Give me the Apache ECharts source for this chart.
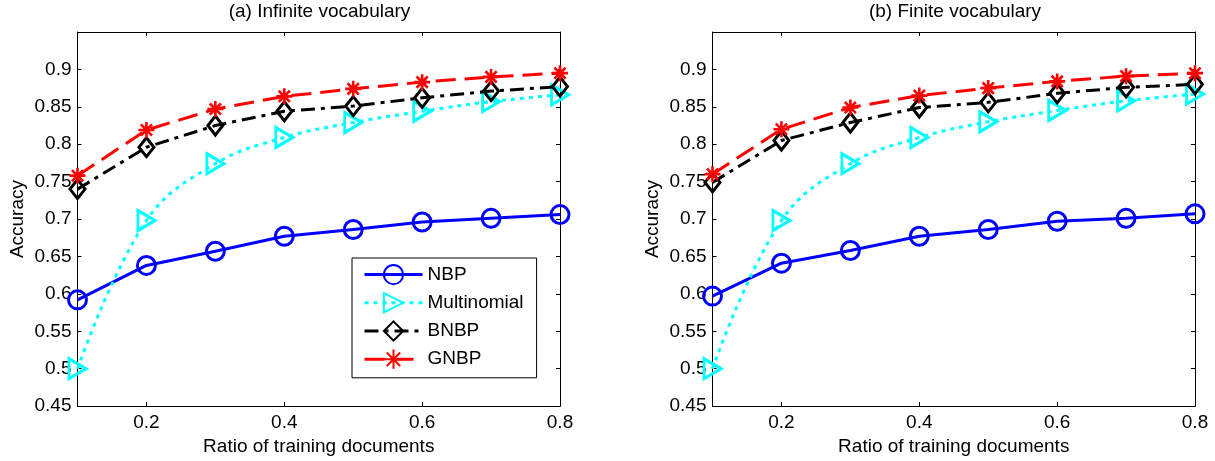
<!DOCTYPE html>
<html>
<head>
<meta charset="utf-8">
<script src="https://cdn.jsdelivr.net/npm/echarts@6/dist/echarts.min.js"></script>
<style>
html,body{margin:0;padding:0;background:#fff;}
#chart{width:1215px;height:461px;}
</style>
</head>
<body>
<div id="chart"></div>
<script>
const ratios = [0.1, 0.2, 0.3, 0.4, 0.5, 0.6, 0.7, 0.8];
const infNBP   = [0.592, 0.638, 0.657, 0.677, 0.686, 0.696, 0.701, 0.706];
const infMulti = [0.500, 0.698, 0.774, 0.809, 0.829, 0.844, 0.857, 0.866];
const infBNBP  = [0.740, 0.796, 0.825, 0.844, 0.851, 0.862, 0.871, 0.877];
const infGNBP  = [0.758, 0.819, 0.847, 0.864, 0.874, 0.883, 0.890, 0.895];
const finNBP   = [0.597, 0.641, 0.658, 0.677, 0.686, 0.697, 0.701, 0.707];
const finMulti = [0.500, 0.698, 0.774, 0.809, 0.830, 0.845, 0.858, 0.867];
const finBNBP  = [0.749, 0.805, 0.829, 0.849, 0.856, 0.868, 0.876, 0.880];
const finGNBP  = [0.760, 0.820, 0.849, 0.865, 0.875, 0.884, 0.891, 0.895];
const xTicks = [0.2, 0.4, 0.6, 0.8];
const yTicks = [0.45, 0.5, 0.55, 0.6, 0.65, 0.7, 0.75, 0.8, 0.85, 0.9];
const seriesNames = ['NBP', 'Multinomial', 'BNBP', 'GNBP'];
const titles = ['(a) Infinite vocabulary', '(b) Finite vocabulary'];
const xName = 'Ratio of training documents';
const yName = 'Accuracy';

const FONT = 'Liberation Sans, Arial, Helvetica, sans-serif';
const fmt = v => String(+(+v).toFixed(2));
const zip = ys => ratios.map((x, i) => [x, ys[i]]);

const gridLefts = [77.5, 712.5];
const titleCenters = [319.5, 955];

function xAx(g, pos) {
  const bottom = pos === 'bottom';
  return {
    type: 'value', gridIndex: g, position: pos, min: 0.1, max: 0.8,
    axisLine: {show: true, onZero: false, lineStyle: {color: '#000', width: 1}},
    axisTick: {show: true, inside: true, length: 4, customValues: xTicks, lineStyle: {color: '#000', width: 1}},
    axisLabel: {show: bottom, customValues: xTicks, formatter: fmt, margin: 7, color: '#000', fontSize: 19, fontFamily: FONT},
    splitLine: {show: false},
    name: bottom ? xName : '', nameLocation: 'middle', nameGap: 30,
    nameTextStyle: {color: '#000', fontSize: 19, fontFamily: FONT}
  };
}
function yAx(g, pos) {
  const left = pos === 'left';
  return {
    type: 'value', gridIndex: g, position: pos, min: 0.45, max: 0.95,
    axisLine: {show: true, onZero: false, lineStyle: {color: '#000', width: 1}},
    axisTick: {show: true, inside: true, length: 4, customValues: yTicks, lineStyle: {color: '#000', width: 1}},
    axisLabel: {show: left, customValues: yTicks, formatter: fmt, margin: 6, color: '#000', fontSize: 19, fontFamily: FONT},
    splitLine: {show: false},
    name: left ? yName : '', nameLocation: 'middle', nameGap: 50, nameRotate: 90,
    nameTextStyle: {color: '#000', fontSize: 19, fontFamily: FONT}
  };
}

const styles = {
  NBP: {color: '#0000ff', symbol: 'circle', size: 18, dash: 'solid', smooth: false, bw: 3},
  Multinomial: {color: '#00ffff', symbol: 'path://M0,0 L17,10 L0,20 Z', size: [17, 20], dash: [4, 5], smooth: 0.4, bw: 3},
  BNBP: {color: '#000000', symbol: 'diamond', size: [15, 19], dash: [14, 6, 4, 6], smooth: false, bw: 3},
  GNBP: {color: '#ff0000', symbol: 'path://M10,0 L10,20 M0,10 L20,10 M3,3 L17,17 M17,3 L3,17', size: 16, dash: [20, 9], smooth: false, bw: 2.6}
};

const dataSets = [[infNBP, infMulti, infBNBP, infGNBP], [finNBP, finMulti, finBNBP, finGNBP]];
const series = [];
dataSets.forEach((set, g) => {
  set.forEach((ys, k) => {
    const name = seriesNames[k];
    const s = styles[name];
    series.push({
      name, type: 'line', xAxisIndex: g * 2, yAxisIndex: g * 2,
      data: zip(ys), clip: false, smooth: s.smooth,
      symbol: s.symbol, symbolSize: s.size, showAllSymbol: true,
      lineStyle: {color: s.color, width: 3, type: s.dash},
      itemStyle: {color: 'rgba(0,0,0,0)', borderColor: s.color, borderWidth: s.bw},
      emphasis: {disabled: true},
      z: 2 + k
    });
  });
});

const option = {
  backgroundColor: '#fff',
  animation: false,
  title: titles.map((t, g) => ({
    text: t, left: titleCenters[g], top: 2, textAlign: 'center', padding: 0,
    textStyle: {color: '#000', fontSize: 19, fontWeight: 'normal', fontFamily: FONT}
  })),
  grid: gridLefts.map(l => ({left: l, top: 32, width: 482.5, height: 376, containLabel: false})),
  xAxis: [xAx(0, 'bottom'), xAx(0, 'top'), xAx(1, 'bottom'), xAx(1, 'top')],
  yAxis: [yAx(0, 'left'), yAx(0, 'right'), yAx(1, 'left'), yAx(1, 'right')],
  legend: {
    data: seriesNames, left: 352, top: 258, orient: 'vertical',
    itemWidth: 58, itemHeight: 24, itemGap: 7, padding: [6, 13, 8, 11],
    borderColor: '#000', borderWidth: 1, borderRadius: 0, backgroundColor: '#fff',
    lineStyle: {width: 3},
    textStyle: {color: '#000', fontSize: 19, fontFamily: FONT},
    selectedMode: false
  },
  series
};

const chart = echarts.init(document.getElementById('chart'), null, {renderer: 'canvas'});
chart.setOption(option);
</script>
</body>
</html>
